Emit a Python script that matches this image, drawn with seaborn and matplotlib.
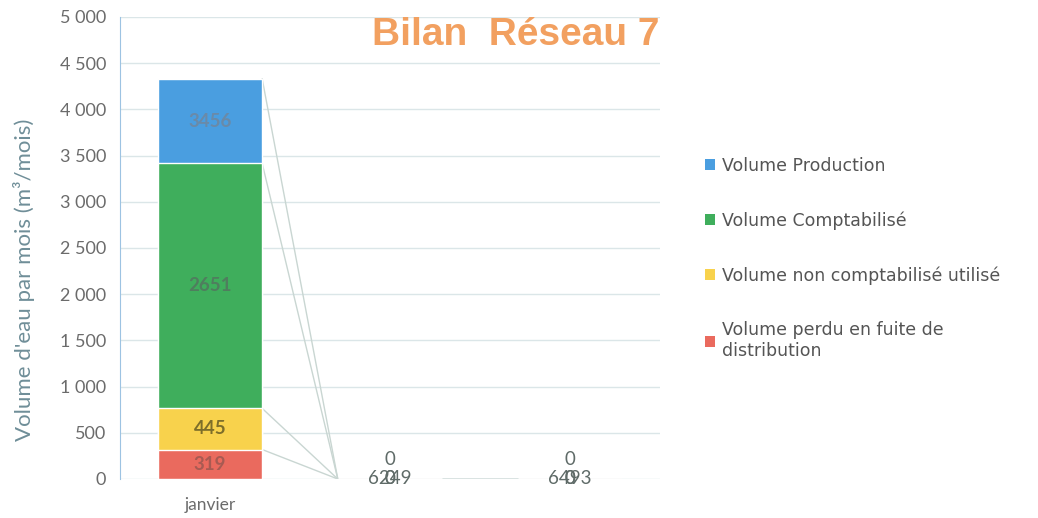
import numpy as np
import pandas as pd
import matplotlib
matplotlib.use("Agg")
import matplotlib.pyplot as plt
from matplotlib.patches import Patch
import seaborn as sns

# données
mois = ["janvier", " ", "  "]
perdu = [319, 0, 0]
non_compta = [445, 0, 0]
comptabilise = [2651, 0, 0]
production = [915, 0, 0]

lab_perdu = ["319", "6249", "6493"]
lab_non_compta = ["445", "0", "0"]
lab_compta = ["2651", "0", "0"]
lab_production = ["3456", "0", "0"]

series = ["Volume Production", "Volume Comptabilisé",
          "Volume non comptabilisé utilisé", "Volume perdu en fuite de\ndistribution"]
couleurs = ["#4a9ee0", "#3fae5c", "#f8d24c", "#ea6a5e"]
col_txt = ["#6a8aa8", "#4f7e5e", "#7d6e2a", "#a85a52"]

sns.set_style("white")
plt.rcParams["font.family"] = ["Lato", "DejaVu Sans"]

# empilement : sommes cumulées, du bas vers le haut
segments = [perdu, non_compta, comptabilise, production]
cumul = np.cumsum(np.array(segments), axis=0)
df = pd.DataFrame({"mois": mois})
for i, nom in enumerate(["c_perdu", "c_non", "c_compta", "c_prod"]):
    df[nom] = cumul[i]

fig = plt.figure(figsize=(10.38, 5.18), dpi=100)
ax = fig.add_axes([0.1156, 0.0753, 0.5202, 0.892])

largeur = 0.58
for nom, c in zip(["c_prod", "c_compta", "c_non", "c_perdu"], couleurs):
    sns.barplot(data=df, x="mois", y=nom, color=c, width=largeur,
                saturation=1, ax=ax, zorder=2)

# lignes de séries (comme dans Excel)
for i in range(len(mois) - 1):
    for k in range(4):
        ax.plot([i + largeur / 2, i + 1 - largeur / 2], [cumul[k][i], cumul[k][i + 1]],
                color="#c9d6d2", lw=1.0, zorder=1)

# étiquettes de données
labels = [lab_perdu, lab_non_compta, lab_compta, lab_production]
for k in range(4):
    for i in range(len(mois)):
        bas = cumul[k][i] - segments[k][i]
        y = bas + segments[k][i] / 2
        if segments[k][i] == 0 and k == 3:
            y = 210
        c = col_txt[3 - k] if segments[k][i] > 0 else "#5f6b68"
        ax.text(i, y, labels[k][i], ha="center", va="center", fontsize=13.5,
                color=c, fontweight="bold" if segments[k][i] > 0 else "normal", zorder=3)

ax.set_xlim(-0.5, 2.5)
ax.set_ylim(0, 5000)
ax.set_yticks(range(0, 5001, 500))
ax.set_yticklabels([f"{v:,}".replace(",", " ") for v in range(0, 5001, 500)])
ax.yaxis.grid(True, color="#dbe6e8", lw=1.0, zorder=0)
ax.set_axisbelow(True)
for s in ["top", "right", "bottom"]:
    ax.spines[s].set_visible(False)
ax.spines["left"].set_color("#9dc3e2")
ax.tick_params(axis="y", length=4, color="#9dc3e2", labelsize=13, labelcolor="#6b6b6b", pad=6)
ax.tick_params(axis="x", length=0, labelsize=12.5, labelcolor="#6b6b6b", pad=13)
ax.set_xlabel("")
ax.set_ylabel("Volume d'eau par mois (m³/mois)", fontsize=16, color="#6f8e98")
ax.yaxis.set_label_coords(-0.158, 0.43)

ax.text(1.0, 1.0, "Bilan  Réseau 7", transform=ax.transAxes, ha="right", va="top",
        fontsize=28, fontweight="bold", color="#f2a060", family=["Liberation Sans", "DejaVu Sans"])

poignees = [Patch(facecolor=c, edgecolor="none") for c in couleurs]
fig.legend(poignees, series, loc="upper left", bbox_to_anchor=(0.664, 0.727),
           frameon=False, labelcolor="#555555", handlelength=0.6,
           handleheight=0.6, handletextpad=0.4, labelspacing=2.1,
           prop={"family": ["DejaVu Sans"], "size": 12.5})

fig.savefig("out.png", dpi=100)
